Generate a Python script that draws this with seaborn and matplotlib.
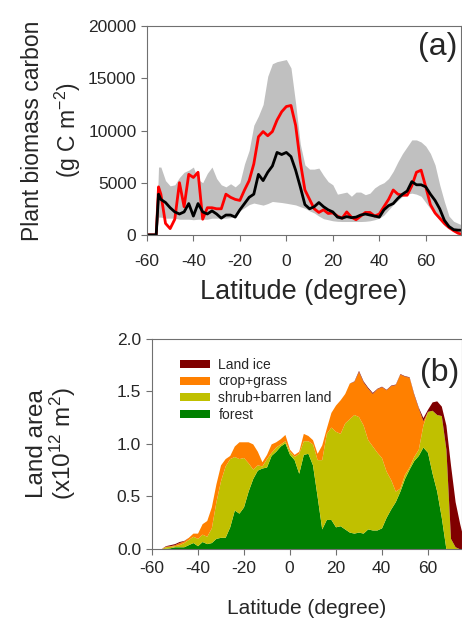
import numpy as np
import pandas as pd
import matplotlib
matplotlib.use("Agg")
import matplotlib.pyplot as plt
import seaborn as sns

# ---- panel (a): plant biomass carbon by latitude (g C m-2) ----
lat_a = [-60, -56, -55, -54, -52, -50, -48, -46, -44, -42, -40, -38, -36, -34,
         -32, -30, -28, -26, -24, -22, -20, -18, -16, -14, -12, -10, -8, -6,
         -4, -2, 0, 2, 4, 6, 8, 10, 12, 14, 16, 18, 20, 22, 24, 26, 28, 30,
         32, 34, 36, 38, 40, 42, 44, 46, 48, 50, 52, 54, 56, 58, 60, 62, 64,
         66, 68, 70, 72, 74, 75]

model_mean = [0, 0, 3900, 3400, 3100, 2600, 2200, 2000, 2200, 3000, 1800, 3000,
              2200, 2000, 2300, 2000, 1600, 1900, 1900, 1700, 2400, 3000, 3600,
              3900, 5800, 5200, 6000, 6600, 7900, 7700, 7900, 7500, 6200, 4600,
              2900, 2500, 2700, 3100, 2700, 2400, 2200, 1700, 1600, 1750, 1650,
              1700, 1900, 2000, 1900, 1800, 1700, 2400, 2800, 3000, 3500, 3900,
              4200, 5100, 4800, 4800, 4600, 3900, 3300, 2500, 1400, 800, 500,
              450, 450]

observed = [0, 0, 4600, 3900, 1100, 600, 1500, 5000, 2700, 5800, 5500, 6000,
            1500, 2600, 2600, 2500, 2500, 3900, 3600, 3400, 3300, 4300, 5200,
            6800, 9400, 9900, 9500, 9900, 11000, 11800, 12300, 12400, 10500,
            7000, 4300, 3400, 2500, 2150, 2400, 2050, 2100, 1800, 1600, 2200,
            1700, 1450, 1800, 2150, 2150, 1800, 2000, 2700, 3400, 4300, 3900,
            3800, 3800, 4700, 6000, 6200, 4600, 2900, 2100, 1600, 1100, 700,
            400, 150, 100]

range_high = [0, 0, 6500, 6500, 5200, 4700, 4800, 5500, 6000, 6200, 6500, 5300,
              5000, 5900, 6500, 5400, 4800, 4600, 4900, 4600, 5000, 6800, 8100,
              10500, 11400, 12500, 15200, 16400, 16600, 16700, 16800, 16000,
              12600, 8700, 6700, 6300, 6300, 6400, 5700, 5100, 4800, 3900, 4000,
              4100, 3700, 4100, 4100, 3850, 4000, 4500, 4800, 5000, 5400, 6100,
              7000, 7800, 8450, 9100, 9100, 8900, 8500, 7800, 6700, 4800, 3200,
              1800, 1300, 1100, 1000]

range_low = [0, 0, 1700, 1700, 1600, 1600, 1600, 1500, 1500, 1500, 1450, 1500,
             1500, 1500, 1600, 1600, 1600, 1600, 1650, 1900, 2300, 2600, 2900,
             3050, 2950, 2850, 3000, 3200, 3150, 3100, 3030, 2950, 2870, 2700,
             2550, 2300, 2100, 1800, 1550, 1450, 1350, 1300, 1280, 1280, 1280,
             1280, 1280, 1300, 1350, 1450, 1600, 1900, 2400, 2900, 3300, 3700,
             3900, 4000, 3900, 3700, 3100, 2500, 1900, 1400, 900, 600, 400, 300,
             280]

# ---- panel (b): land area by cover type (x10^12 m2) ----
lat_b = list(range(-60, 75, 2)) + [75]

forest = [0, 0, 0, 0.005, 0.01, 0.02, 0.02, 0.02, 0.04, 0.06, 0.03, 0.07, 0.05,
          0.06, 0.10, 0.11, 0.11, 0.21, 0.37, 0.34, 0.40, 0.55, 0.67, 0.75,
          0.77, 0.78, 0.89, 0.93, 0.98, 1.01, 0.90, 0.85, 0.72, 0.90, 0.91,
          0.80, 0.50, 0.19, 0.28, 0.28, 0.21, 0.22, 0.19, 0.16, 0.15, 0.16,
          0.15, 0.19, 0.18, 0.18, 0.20, 0.30, 0.38, 0.45, 0.55, 0.67, 0.76,
          0.84, 0.89, 0.97, 0.92, 0.72, 0.55, 0.30, 0, 0, 0, 0, 0]

shrub = [0, 0, 0, 0.015, 0.015, 0.01, 0.02, 0.04, 0.05, 0.06, 0.07, 0.07, 0.07,
         0.14, 0.35, 0.54, 0.68, 0.65, 0.51, 0.52, 0.47, 0.27, 0.09, 0.05,
         0.02, 0.08, 0.03, 0.04, 0.02, 0.02, 0.03, 0.03, 0.19, 0.13, 0.12,
         0.20, 0.35, 0.66, 0.82, 0.88, 0.91, 0.88, 1.01, 1.08, 1.13, 1.10,
         1.03, 0.85, 0.80, 0.74, 0.67, 0.44, 0.28, 0.10, 0.03, 0.04, 0.02,
         0.04, 0.06, 0.21, 0.39, 0.60, 0.73, 0.97, 0.95, 0.10, 0.02, 0, 0]

crop_grass = [0, 0, 0, 0.005, 0.005, 0.01, 0.02, 0.015, 0.02, 0.03, 0.05, 0.10,
              0.15, 0.20, 0.17, 0.15, 0.07, 0.03, 0.10, 0.16, 0.15, 0.20, 0.24,
              0.13, 0.04, 0.04, 0.08, 0.05, 0.05, 0.06, 0.02, 0.02, 0.02, 0.07,
              0.05, 0.04, 0.06, 0.14, 0.05, 0.14, 0.25, 0.32, 0.28, 0.34, 0.315,
              0.43, 0.41, 0.49, 0.50, 0.605, 0.675, 0.775, 0.895, 1.015, 1.085,
              0.935, 0.855, 0.59, 0.39, 0.04, 0, 0, 0, 0, 0, 0, 0, 0, 0]

land_ice = [0, 0, 0, 0.005, 0.01, 0.01, 0.01, 0.005, 0, 0, 0, 0, 0, 0, 0, 0, 0,
            0, 0, 0, 0, 0, 0, 0, 0, 0, 0, 0, 0, 0, 0, 0, 0, 0, 0, 0, 0, 0, 0, 0,
            0, 0, 0, 0, 0.005, 0.01, 0.01, 0.01, 0.01, 0.005, 0.005, 0.005,
            0.005, 0.005, 0.005, 0.005, 0.005, 0.01, 0.01, 0.03, 0.02, 0.08,
            0.13, 0.09, 0.23, 0.70, 0.43, 0.24, 0.15]

cover_names = ["forest", "shrub+barren land", "crop+grass", "Land ice"]
cover_colors = ["#008000", "#c0c000", "#ff8000", "#800000"]

sns.set_style("ticks")
plt.rcParams["font.family"] = ["Liberation Sans", "DejaVu Sans"]
plt.rcParams["mathtext.fontset"] = "custom"
plt.rcParams["mathtext.rm"] = "Liberation Sans"
plt.rcParams["mathtext.it"] = "Liberation Sans"
plt.rcParams["axes.unicode_minus"] = False

fig = plt.figure(figsize=(4.62, 6.23), dpi=100)
ax1 = fig.add_axes([0.318, 0.623, 0.679, 0.335])
ax2 = fig.add_axes([0.328, 0.119, 0.672, 0.337])

df_a = pd.DataFrame({"lat": lat_a, "mean": model_mean, "obs": observed,
                     "hi": range_high, "lo": range_low})

ax1.fill_between(df_a["lat"], df_a["lo"], df_a["hi"], color="#c0c0c0", lw=0)
sns.lineplot(data=df_a, x="lat", y="obs", ax=ax1, color="#ff0000", lw=2)
sns.lineplot(data=df_a, x="lat", y="mean", ax=ax1, color="black", lw=2)
ax1.set_xlim(-60, 75)
ax1.set_ylim(0, 20000)
ax1.set_yticks([0, 5000, 10000, 15000, 20000])
ax1.set_xticks([-60, -40, -20, 0, 20, 40, 60])
ax1.set_xlabel("Latitude (degree)", fontsize=19.5, labelpad=7)
ax1.set_ylabel("Plant biomass carbon\n(g C m$^{-2}$)", fontsize=16.5,
               linespacing=1.35, labelpad=4)
ax1.text(0.99, 0.9, "(a)", transform=ax1.transAxes, ha="right", va="center",
         fontsize=23)

df_b = pd.DataFrame({"lat": lat_b, "forest": forest, "shrub": shrub,
                     "crop": crop_grass, "ice": land_ice})
ax2.stackplot(df_b["lat"], df_b["forest"], df_b["shrub"], df_b["crop"],
              df_b["ice"], colors=cover_colors, labels=cover_names, lw=0)
ax2.set_xlim(-60, 75)
ax2.set_ylim(0, 2.0)
ax2.set_yticks([0, 0.5, 1.0, 1.5, 2.0])
ax2.set_yticklabels(["0.0", "0.5", "1.0", "1.5", "2.0"])
ax2.set_xticks([-60, -40, -20, 0, 20, 40, 60])
ax2.set_xlabel("Latitude (degree)", fontsize=15, labelpad=16)
ax2.set_ylabel("Land area\n(x10$^{12}$ m$^{2}$)", fontsize=17.5,
               linespacing=1.0, labelpad=28)
ax2.text(0.99, 0.84, "(b)", transform=ax2.transAxes, ha="right", va="center",
         fontsize=23)
handles, labels = ax2.get_legend_handles_labels()
ax2.legend(handles[::-1], labels[::-1], loc="upper left",
           bbox_to_anchor=(0.05, 0.97), frameon=False, fontsize=10,
           handlelength=2.2, handleheight=0.5, labelspacing=0.2,
           handletextpad=0.6)

for ax in (ax1, ax2):
    for s in ax.spines.values():
        s.set_color("#707070")
        s.set_linewidth(0.8)
    ax.tick_params(labelsize=12.5, length=4, width=0.8, color="#707070",
                   direction="out")
ax1.tick_params(axis="x", pad=10)
ax2.tick_params(axis="x", pad=5)

fig.savefig("out.png", dpi=100)
